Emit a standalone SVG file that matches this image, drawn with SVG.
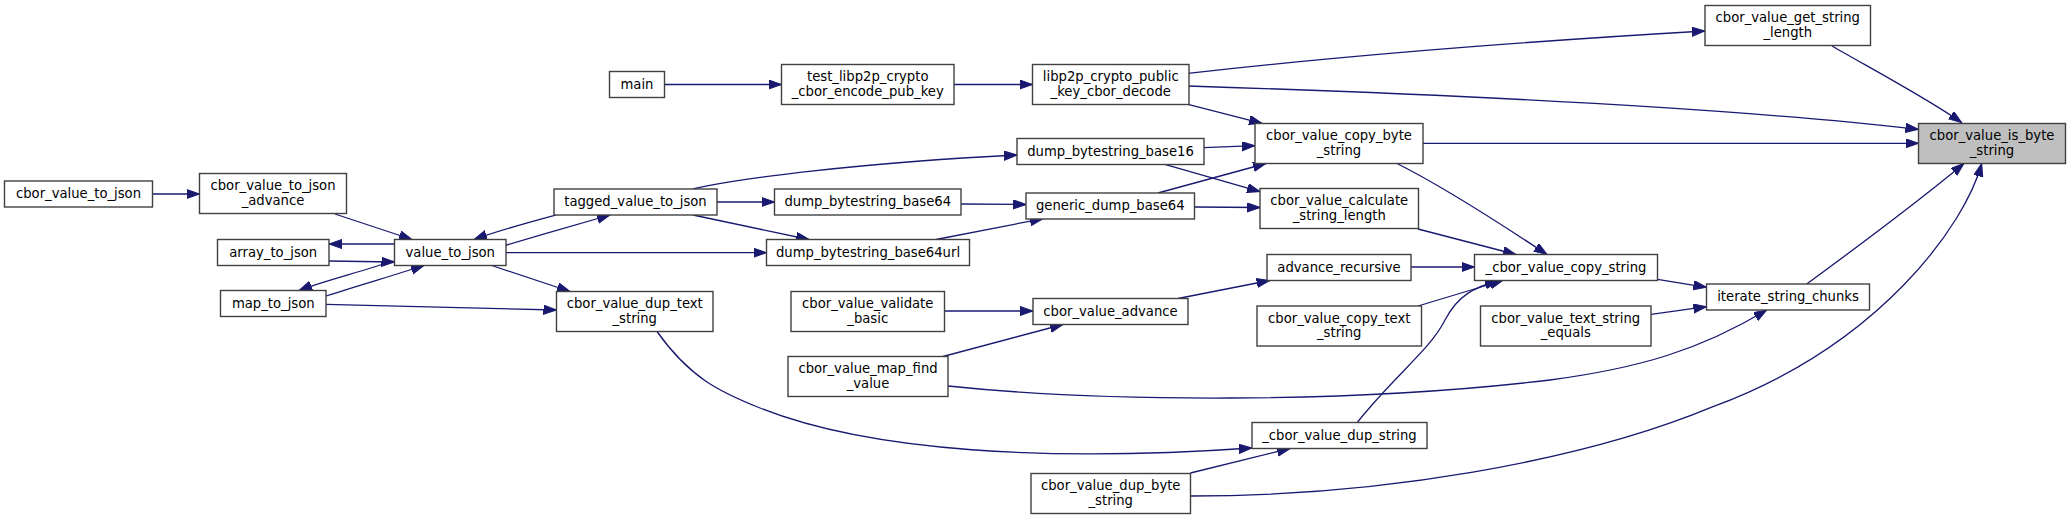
<svg xmlns="http://www.w3.org/2000/svg" width="2071" height="520" viewBox="0 0 2071 520">
<defs>
<style>
.node rect{fill:#ffffff;stroke:#404040;stroke-width:1.4}
.node.hl rect{fill:#bfbfbf}
.node text{font-family:"DejaVu Sans","Liberation Sans",sans-serif;font-size:13.2px;fill:#000000;text-anchor:middle}
.edges path{fill:none;stroke:#191970;stroke-width:1.3;marker-end:url(#arr)}
</style>
<marker id="arr" markerUnits="userSpaceOnUse" markerWidth="14" markerHeight="10" refX="13" refY="4.6" orient="auto" viewBox="0 0 14 10">
<path d="M0,0 L13,4.6 L0,9.2 z" fill="#191970" stroke="#191970" stroke-width="1"/>
</marker>
</defs>
<rect x="0" y="0" width="2071" height="520" fill="#ffffff"/>
<g id="edges" class="edges">
<path d="M1832,46 C1870,68 1930,100 1961.7,122.7"/>
<path d="M1188,73.3 C1350,55 1550,40 1705,31"/>
<path d="M1188,86 C1500,96 1750,110 1918.5,129.3"/>
<path d="M1188,104.3 L1262,123.3"/>
<path d="M954,84.5 L1032.5,84.5"/>
<path d="M664.5,84.5 L781.5,84.5"/>
<path d="M1423,143.3 L1918.5,143.3"/>
<path d="M1204,147.7 L1255,145.7"/>
<path d="M1163,163.8 L1260,191.7"/>
<path d="M1158,193 L1266,163.5"/>
<path d="M1194.5,207 L1260,207.5"/>
<path d="M693,189 C740,178 860,163 1017,155"/>
<path d="M717,202 L774.5,202"/>
<path d="M556,215 C530,222 500,230 474,239.5"/>
<path d="M505.6,245.3 C540,235 580,224 610,215"/>
<path d="M693,215 L809,239.5"/>
<path d="M506,252.7 L766.5,252.7"/>
<path d="M961,204 L1026,204.5"/>
<path d="M936,239.5 L1043,218.7"/>
<path d="M394.5,244 L329,244"/>
<path d="M329,261 L394.5,262"/>
<path d="M393,261 C360,272 320,282 299,290.5"/>
<path d="M326,296 C360,285 395,275 424,265.5"/>
<path d="M152.5,194 L199.5,194"/>
<path d="M335,214 L412,239.5"/>
<path d="M491.7,265.5 L570,291.5"/>
<path d="M326,304.3 L556.5,310"/>
<path d="M657,331.5 C690,378 720,392 760,408 C870,452 1050,462 1252,448"/>
<path d="M1357.6,422 C1395,375 1430,350 1445,320 C1458,295 1475,287 1498,281"/>
<path d="M1397,163.5 C1440,185 1495,220 1547,254.5"/>
<path d="M1418,229 L1516,254.5"/>
<path d="M1411,267 L1474.5,267"/>
<path d="M1418,306 L1502.7,280.5"/>
<path d="M1657.5,279.3 L1706.5,287.3"/>
<path d="M1651,314.3 L1706.5,306.7"/>
<path d="M1178,298.5 L1269.6,280.5"/>
<path d="M944.5,311 L1033,311"/>
<path d="M943,356.5 L1063,324.5"/>
<path d="M948,386 C1100,402 1350,404 1550,380 C1640,368 1700,350 1766.7,310"/>
<path d="M1806.7,284 C1860,245 1920,200 1964,163.5"/>
<path d="M1190.5,496 C1380,496 1580,462 1713,406.7 C1880,345 1965,225 1981.7,163.5"/>
<path d="M1190.5,473 L1290,448.5"/>
</g>
<g id="n_is_byte_string" class="node hl"><rect x="1918.5" y="123.5" width="147" height="40"/><text x="1992" y="140">cbor_value_is_byte</text><text x="1992" y="154.5">_string</text></g>
<g id="n_get_string_length" class="node"><rect x="1705" y="5.5" width="165.5" height="40"/><text x="1787.75" y="22">cbor_value_get_string</text><text x="1787.75" y="36.5">_length</text></g>
<g id="n_libp2p_decode" class="node"><rect x="1032.5" y="64.5" width="156.5" height="40"/><text x="1110.75" y="81">libp2p_crypto_public</text><text x="1110.75" y="95.5">_key_cbor_decode</text></g>
<g id="n_test_libp2p" class="node"><rect x="781.5" y="64.5" width="172.5" height="40"/><text x="867.75" y="81">test_libp2p_crypto</text><text x="867.75" y="95.5">_cbor_encode_pub_key</text></g>
<g id="n_main" class="node"><rect x="609.5" y="71.5" width="55" height="26"/><text x="637" y="88.5">main</text></g>
<g id="n_copy_byte_string" class="node"><rect x="1255" y="123.5" width="168" height="40"/><text x="1339" y="140">cbor_value_copy_byte</text><text x="1339" y="154.5">_string</text></g>
<g id="n_dump_base16" class="node"><rect x="1017" y="138.5" width="187" height="26"/><text x="1110.5" y="155.5">dump_bytestring_base16</text></g>
<g id="n_tagged_value_to_json" class="node"><rect x="554" y="189" width="163" height="26"/><text x="635.5" y="206">tagged_value_to_json</text></g>
<g id="n_dump_base64" class="node"><rect x="774.5" y="189" width="186.5" height="26"/><text x="867.75" y="206">dump_bytestring_base64</text></g>
<g id="n_generic_dump_base64" class="node"><rect x="1026" y="193" width="168.5" height="26"/><text x="1110.25" y="210">generic_dump_base64</text></g>
<g id="n_calculate_string_length" class="node"><rect x="1260" y="188.5" width="158.5" height="40"/><text x="1339.25" y="205">cbor_value_calculate</text><text x="1339.25" y="219.5">_string_length</text></g>
<g id="n_dump_base64url" class="node"><rect x="766.5" y="239.5" width="203" height="26"/><text x="868" y="256.5">dump_bytestring_base64url</text></g>
<g id="n_value_to_json" class="node"><rect x="394.5" y="239.5" width="111.5" height="26"/><text x="450.25" y="256.5">value_to_json</text></g>
<g id="n_array_to_json" class="node"><rect x="217.5" y="239.5" width="111.5" height="26"/><text x="273.25" y="256.5">array_to_json</text></g>
<g id="n_to_json_advance" class="node"><rect x="199.5" y="173.5" width="147" height="40"/><text x="273" y="190">cbor_value_to_json</text><text x="273" y="204.5">_advance</text></g>
<g id="n_cbor_value_to_json" class="node"><rect x="4.5" y="181" width="148" height="26"/><text x="78.5" y="198">cbor_value_to_json</text></g>
<g id="n_map_to_json" class="node"><rect x="220.5" y="290.5" width="105.5" height="26"/><text x="273.25" y="307.5">map_to_json</text></g>
<g id="n_dup_text_string" class="node"><rect x="556.5" y="291.5" width="156.5" height="40"/><text x="634.75" y="308">cbor_value_dup_text</text><text x="634.75" y="322.5">_string</text></g>
<g id="n_advance_recursive" class="node"><rect x="1267" y="254.5" width="144" height="26"/><text x="1339" y="271.5">advance_recursive</text></g>
<g id="n_copy_string" class="node"><rect x="1474.5" y="254.5" width="183" height="26"/><text x="1566" y="271.5">_cbor_value_copy_string</text></g>
<g id="n_iterate_string_chunks" class="node"><rect x="1706.5" y="284" width="163" height="26"/><text x="1788" y="301">iterate_string_chunks</text></g>
<g id="n_validate_basic" class="node"><rect x="791" y="291.5" width="153.5" height="40"/><text x="867.75" y="308">cbor_value_validate</text><text x="867.75" y="322.5">_basic</text></g>
<g id="n_advance" class="node"><rect x="1033" y="298.5" width="155" height="26"/><text x="1110.5" y="315.5">cbor_value_advance</text></g>
<g id="n_copy_text_string" class="node"><rect x="1257" y="306" width="164.5" height="40"/><text x="1339.25" y="322.5">cbor_value_copy_text</text><text x="1339.25" y="337">_string</text></g>
<g id="n_text_string_equals" class="node"><rect x="1480.5" y="306" width="170.5" height="40"/><text x="1565.75" y="322.5">cbor_value_text_string</text><text x="1565.75" y="337">_equals</text></g>
<g id="n_map_find_value" class="node"><rect x="788" y="356.5" width="160" height="40"/><text x="868" y="373">cbor_value_map_find</text><text x="868" y="387.5">_value</text></g>
<g id="n_dup_string" class="node"><rect x="1252" y="422.5" width="175" height="26"/><text x="1339.5" y="439.5">_cbor_value_dup_string</text></g>
<g id="n_dup_byte_string" class="node"><rect x="1031" y="473.5" width="159.5" height="40"/><text x="1110.75" y="490">cbor_value_dup_byte</text><text x="1110.75" y="504.5">_string</text></g>
</svg>
